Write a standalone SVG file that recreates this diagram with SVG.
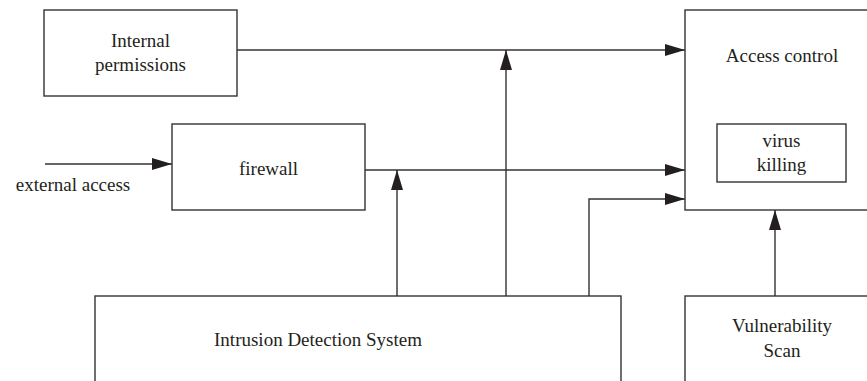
<svg xmlns="http://www.w3.org/2000/svg" width="867" height="381" viewBox="0 0 867 381">
<style>
.box{fill:#fff;stroke:#333;stroke-width:1.4}
.ln{fill:none;stroke:#333;stroke-width:1.4}
.t{font-family:'Liberation Serif',serif;font-size:19px;fill:#231f20;text-anchor:middle}
</style>
<defs>
<marker id="ah" viewBox="0 0 20 12" refX="20" refY="6" markerWidth="20" markerHeight="12" markerUnits="userSpaceOnUse" orient="auto">
<path d="M0,0 L20,6 L0,12 Z" fill="#231f20"/>
</marker>
</defs>
<rect width="867" height="381" fill="#fff"/>
<g id="connectors">
<line class="ln" x1="237" y1="50" x2="685" y2="50" marker-end="url(#ah)"/>
<line class="ln" x1="45" y1="164" x2="172" y2="164" marker-end="url(#ah)"/>
<line class="ln" x1="365" y1="170" x2="685" y2="170" marker-end="url(#ah)"/>
<polyline class="ln" points="589,296 589,199 685,199" marker-end="url(#ah)"/>
<line class="ln" x1="506" y1="296" x2="506" y2="50" marker-end="url(#ah)"/>
<line class="ln" x1="397" y1="296" x2="397" y2="170" marker-end="url(#ah)"/>
<line class="ln" x1="775" y1="296" x2="775" y2="210" marker-end="url(#ah)"/>
</g>
<g id="internal-permissions">
<rect class="box" x="44" y="10" width="193" height="86"/>
<text class="t" x="140.5" y="47">Internal</text>
<text class="t" x="140.5" y="71">permissions</text>
</g>
<g id="firewall">
<rect class="box" x="172" y="124" width="193" height="86"/>
<text class="t" x="268.5" y="175">firewall</text>
</g>
<g id="external-access">
<text class="t" x="73" y="191">external access</text>
</g>
<g id="access-control">
<rect class="box" x="685" y="10" width="190" height="200"/>
<text class="t" x="782" y="62">Access control</text>
</g>
<g id="virus-killing">
<rect class="box" x="717" y="124" width="129" height="58"/>
<text class="t" x="781.5" y="147">virus</text>
<text class="t" x="781.5" y="171">killing</text>
</g>
<g id="ids">
<rect class="box" x="95" y="296" width="526" height="100"/>
<text class="t" x="318" y="346">Intrusion Detection System</text>
</g>
<g id="vulnerability-scan">
<rect class="box" x="685" y="296" width="190" height="100"/>
<text class="t" x="782" y="332">Vulnerability</text>
<text class="t" x="782" y="357">Scan</text>
</g>
</svg>
